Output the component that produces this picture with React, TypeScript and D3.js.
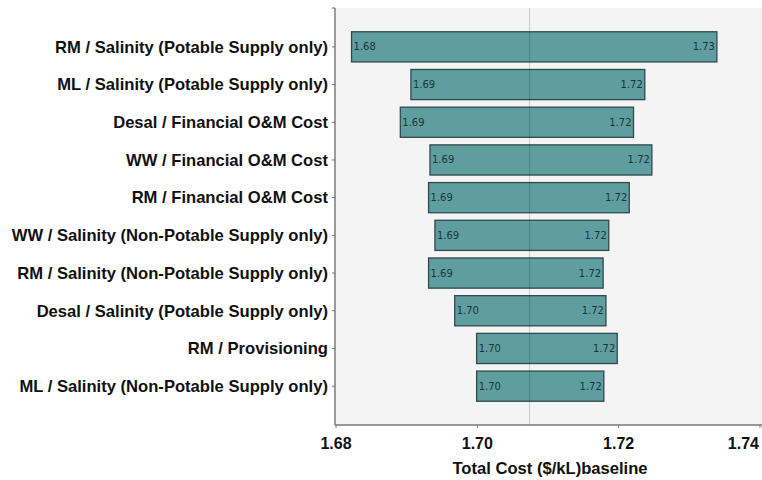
import React from "react";
import * as d3 from "d3";

// Tornado chart: total cost range for each sensitivity parameter
const categories = [
  "RM / Salinity (Potable Supply only)",
  "ML / Salinity (Potable Supply only)",
  "Desal / Financial O&M Cost",
  "WW / Financial O&M Cost",
  "RM / Financial O&M Cost",
  "WW / Salinity (Non-Potable Supply only)",
  "RM / Salinity (Non-Potable Supply only)",
  "Desal / Salinity (Potable Supply only)",
  "RM / Provisioning",
  "ML / Salinity (Non-Potable Supply only)",
];
const lowValues = [1.6822, 1.6906, 1.6891, 1.6933, 1.6931, 1.694, 1.6931, 1.6968, 1.6999, 1.6999];
const highValues = [1.7339, 1.7237, 1.7221, 1.7247, 1.7215, 1.7186, 1.7178, 1.7182, 1.7198, 1.7179];
const baselineValue = 1.7074;
const xTicks = [1.68, 1.7, 1.72, 1.74];
const xTitle = "Total Cost ($/kL)baseline";

const W = 762;
const H = 480;
const plot = { left: 336, right: 760, top: 8, bottom: 425 };

export default function App() {
  const x = d3.scaleLinear().domain([1.68, 1.74]).range([plot.left, plot.right]);
  const y = d3
    .scaleBand<string>()
    .domain(categories)
    .range([28, 405])
    .paddingInner(0.2)
    .paddingOuter(0.1);
  const bw = y.bandwidth();
  const font = "'Liberation Sans', Arial, sans-serif";

  return (
    <svg
      width={W}
      height={H}
      style={{ position: "absolute", left: 0, top: 0, display: "block", background: "#fff" }}
    >
      <rect
        x={plot.left}
        y={plot.top}
        width={W - plot.left}
        height={plot.bottom - plot.top}
        fill="#f4f4f4"
      />
      {categories.map((c, i) => {
        const y0 = y(c)!;
        const x0 = x(lowValues[i]);
        const x1 = x(highValues[i]);
        return (
          <g key={c}>
            <rect
              x={x0}
              y={y0}
              width={x1 - x0}
              height={bw}
              fill="#5f9ea0"
              stroke="#2f4a4a"
              strokeWidth={1.3}
            />
            <text
              x={x0 + 2}
              y={y0 + bw / 2}
              dy="0.35em"
              fontFamily="'DejaVu Sans', Verdana, sans-serif"
              fontSize={10}
              fill="#1c3436"
            >
              {lowValues[i].toFixed(2)}
            </text>
            <text
              x={x1 - 2}
              y={y0 + bw / 2}
              dy="0.35em"
              textAnchor="end"
              fontFamily="'DejaVu Sans', Verdana, sans-serif"
              fontSize={10}
              fill="#1c3436"
            >
              {highValues[i].toFixed(2)}
            </text>
            <line
              x1={plot.left - 4}
              x2={plot.left - 1}
              y1={y0 + bw / 2}
              y2={y0 + bw / 2}
              stroke="#777"
            />
            <text
              x={328}
              y={y0 + bw / 2}
              dy="0.35em"
              textAnchor="end"
              fontFamily={font}
              fontWeight="bold"
              fontSize={16.6}
              fill="#111"
            >
              {c}
            </text>
          </g>
        );
      })}
      {/* baseline reference line */}
      <line
        x1={x(baselineValue)}
        x2={x(baselineValue)}
        y1={plot.top}
        y2={plot.bottom}
        stroke="#000"
        strokeOpacity={0.18}
        strokeWidth={1}
      />
      {/* axes */}
      <line x1={plot.left - 1} x2={plot.left - 1} y1={plot.top} y2={plot.bottom} stroke="#666" strokeWidth={1.3} />
      <line x1={plot.left - 4} x2={plot.left - 1} y1={plot.top} y2={plot.top} stroke="#666" />
      <line x1={plot.left - 1} x2={W} y1={plot.bottom} y2={plot.bottom} stroke="#777" strokeWidth={1.3} />
      {xTicks.map((t, i) => {
        const last = i === xTicks.length - 1;
        return (
          <g key={t}>
            <line x1={x(t)} x2={x(t)} y1={plot.bottom} y2={plot.bottom + 3} stroke="#777" />
            <text
              x={last ? W - 3 : x(t)}
              y={449}
              textAnchor={last ? "end" : "middle"}
              fontFamily={font}
              fontWeight="bold"
              fontSize={16}
              fill="#111"
            >
              {t.toFixed(2)}
            </text>
          </g>
        );
      })}
      <text
        x={550}
        y={474}
        textAnchor="middle"
        fontFamily={font}
        fontWeight="bold"
        fontSize={16.6}
        fill="#111"
      >
        {xTitle}
      </text>
    </svg>
  );
}
